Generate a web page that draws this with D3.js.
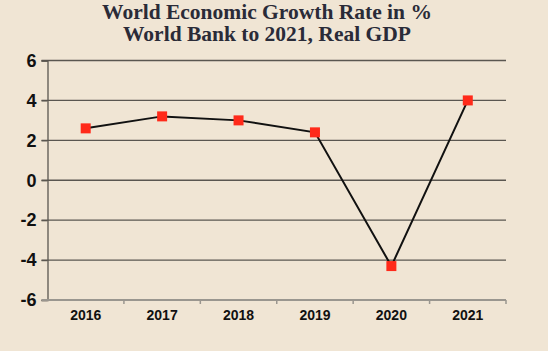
<!DOCTYPE html>
<html>
<head>
<meta charset="utf-8">
<script src="https://cdn.jsdelivr.net/npm/d3@7"></script>
<style>
  body { margin: 0; background: #f0e5d4; }
  svg { display: block; }
  .y-axis text { font-family: "Liberation Sans", Arial, sans-serif; font-weight: bold; font-size: 18px; fill: #111; }
  .x-axis text { font-family: "Liberation Sans", Arial, sans-serif; font-weight: bold; font-size: 14px; fill: #111; }
  .title { font-family: "Liberation Serif", serif; font-weight: bold; font-size: 21.5px; fill: #2a2b38; }
</style>
</head>
<body>
<div id="chart"></div>
<script>
var years = ["2016", "2017", "2018", "2019", "2020", "2021"];
var growth = [2.6, 3.2, 3.0, 2.4, -4.3, 4.0];
var yTicks = [-6, -4, -2, 0, 2, 4, 6];
var titleLines = ["World Economic Growth Rate in %", "World Bank to 2021, Real GDP"];

var margin = {top: 60.5, right: 42, bottom: 51, left: 47.5},
    width = 548 - margin.left - margin.right,
    height = 351 - margin.top - margin.bottom;

var svg = d3.select("#chart")
    .append("svg")
        .attr("width", 548)
        .attr("height", 351);

svg.selectAll(".title")
    .data(titleLines)
  .enter().append("text")
    .attr("class", "title")
    .attr("x", 267)
    .attr("y", function(d, i) { return 19 + i * 22; })
    .attr("text-anchor", "middle")
    .text(function(d) { return d; });

var g = svg.append("g")
    .attr("transform", "translate(" + margin.left + "," + margin.top + ")");

var x = d3.scaleBand()
    .domain(years)
    .range([0, width]);

var y = d3.scaleLinear()
    .domain([-6, 6])
    .range([height, 0]);

// grid lines
g.selectAll(".grid")
    .data(yTicks.filter(function(d) { return d > -6; }))
  .enter().append("line")
    .attr("x1", -6)
    .attr("x2", width)
    .attr("y1", function(d) { return y(d); })
    .attr("y2", function(d) { return y(d); })
    .attr("stroke", "#5a5650")
    .attr("stroke-width", 1.3);

var yAxis = g.append("g")
    .attr("class", "y-axis")
    .call(d3.axisLeft(y).tickValues(yTicks).tickSize(6).tickPadding(5)
        .tickFormat(function(d) { return String(d); }));
yAxis.select(".domain").attr("stroke", "#5a5650").attr("stroke-width", 1.3);
yAxis.selectAll(".tick line").attr("stroke", "#5a5650").attr("stroke-width", 1.3);

var xAxis = g.append("g")
    .attr("class", "x-axis")
    .attr("transform", "translate(0," + height + ")")
    .call(d3.axisBottom(x).tickSize(0).tickPadding(10));
xAxis.select(".domain").remove();
g.append("line")
    .attr("x1", -6).attr("x2", width)
    .attr("y1", height).attr("y2", height)
    .attr("stroke", "#9a968f").attr("stroke-width", 2);
g.selectAll(".xtick")
    .data(years)
  .enter().append("line")
    .attr("x1", function(d) { return x(d) + x.bandwidth(); })
    .attr("x2", function(d) { return x(d) + x.bandwidth(); })
    .attr("y1", height)
    .attr("y2", height + 4)
    .attr("stroke", "#9a968f")
    .attr("stroke-width", 1.5);

var line = d3.line()
    .x(function(d, i) { return x(years[i]) + x.bandwidth() / 2; })
    .y(function(d) { return y(d); });

g.append("path")
    .datum(growth)
    .attr("fill", "none")
    .attr("stroke", "#111")
    .attr("stroke-width", 2)
    .attr("d", line);

g.selectAll(".pt")
    .data(growth)
  .enter().append("rect")
    .attr("x", function(d, i) { return x(years[i]) + x.bandwidth() / 2 - 5; })
    .attr("y", function(d) { return y(d) - 5; })
    .attr("width", 10)
    .attr("height", 10)
    .attr("fill", "#ff2a1a");
</script>
</body>
</html>
